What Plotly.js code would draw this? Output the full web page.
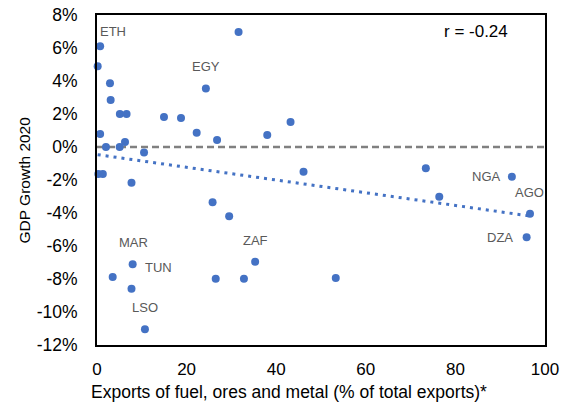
<!DOCTYPE html>
<html>
<head>
<meta charset="utf-8">
<script src="https://cdn.plot.ly/plotly-3.0.1.min.js"></script>
<style>
  html, body { margin: 0; padding: 0; background: #fff; }
  #chart { width: 567px; height: 409px; }
</style>
</head>
<body>
<div id="chart"></div>
<script>
// Exports of fuel, ores and metal (% of total exports)
const exportsShare = [
  0.7, 0.15, 2.9, 3.05, 5.1, 6.6, 14.95, 0.7, 2.0, 5.06, 6.25, 10.5, 0.3, 1.3, 7.7,
  31.6, 24.3, 18.75, 22.25, 26.8, 38.0, 43.2, 46.1, 73.4, 92.6, 76.4, 96.65, 95.9,
  35.3, 53.3, 25.8, 29.5, 7.96, 7.7, 10.7, 3.5, 26.5, 32.8
];
// GDP growth 2020 (%)
const gdpGrowth = [
  6.1, 4.9, 3.86, 2.85, 2.0, 2.0, 1.82, 0.79, 0.0, 0.0, 0.3, -0.33, -1.64, -1.64, -2.16,
  6.97, 3.55, 1.76, 0.87, 0.42, 0.73, 1.52, -1.5, -1.29, -1.8, -3.01, -4.04, -5.47,
  -6.95, -7.94, -3.35, -4.2, -7.11, -8.59, -11.05, -7.88, -7.98, -7.98
];

// Country labels and where their text sits
const labelText = ["ETH", "EGY", "MAR", "TUN", "LSO", "ZAF", "NGA", "AGO", "DZA"];
const labelX = [3.57, 24.3, 8.04, 13.77, 10.78, 35.3, 86.95, 96.65, 89.9];
const labelY = [6.99, 4.87, -5.78, -7.29, -9.72, -5.64, -1.76, -2.77, -5.5];

const corrText = "r = -0.24";

const yTickVals = [-12, -10, -8, -6, -4, -2, 0, 2, 4, 6, 8];
const yTickText = ["-12%", "-10%", "-8%", "-6%", "-4%", "-2%", "0%", "2%", "4%", "6%", "8%"];
const xTickVals = [0, 20, 40, 60, 80, 100];

// Least-squares linear trend through the points
function linearFit(xs, ys) {
  const n = xs.length;
  const mx = xs.reduce((a, b) => a + b, 0) / n;
  const my = ys.reduce((a, b) => a + b, 0) / n;
  let sxy = 0, sxx = 0;
  for (let i = 0; i < n; i++) {
    sxy += (xs[i] - mx) * (ys[i] - my);
    sxx += (xs[i] - mx) * (xs[i] - mx);
  }
  const slope = sxy / sxx;
  return { slope, intercept: my - slope * mx };
}
const fit = linearFit(exportsShare, gdpGrowth);
const xMin = Math.min(...exportsShare), xMax = Math.max(...exportsShare);
const trendX = [xMin, xMax];
const trendY = trendX.map(x => fit.intercept + fit.slope * x);

const FONT = "Liberation Sans, Arial, sans-serif";
const BLUE = "#4472C4";

const traces = [
  {
    type: "scatter", mode: "lines", x: trendX, y: trendY,
    line: { color: BLUE, width: 3, dash: "3px,5px" },
    hoverinfo: "skip", showlegend: false
  },
  {
    type: "scatter", mode: "markers", x: exportsShare, y: gdpGrowth,
    marker: { color: BLUE, size: 8 },
    showlegend: false, cliponaxis: false
  }
];

const annotations = labelText.map((t, i) => ({
  x: labelX[i], y: labelY[i], xref: "x", yref: "y", text: t,
  showarrow: false, font: { family: FONT, size: 13, color: "#595959" },
  xanchor: "center", yanchor: "middle"
}));
annotations.push({
  x: 84.5, y: 7.03, xref: "x", yref: "y", text: corrText, showarrow: false,
  font: { family: FONT, size: 17, color: "#000" }, xanchor: "center", yanchor: "middle"
});

// Axis titles, placed in pixels and converted to paper units below
const W = 567, H = 409, M = { l: 97, r: 22, t: 15, b: 64 };
const pw = W - M.l - M.r, ph = H - M.t - M.b;
const px = (x) => (x - M.l) / pw;
const py = (y) => 1 - (y - M.t) / ph;

annotations.push({
  x: px(23.5), y: py(180), xref: "paper", yref: "paper", text: "GDP Growth 2020",
  showarrow: false, textangle: -90, font: { family: FONT, size: 15.5, color: "#000" },
  xanchor: "center", yanchor: "middle"
});
annotations.push({
  x: px(289), y: py(392), xref: "paper", yref: "paper",
  text: "Exports of fuel, ores and metal (% of total exports)*",
  showarrow: false, font: { family: FONT, size: 17.5, color: "#000" },
  xanchor: "center", yanchor: "middle"
});

const layout = {
  width: W, height: H,
  margin: M,
  paper_bgcolor: "#fff", plot_bgcolor: "#fff",
  font: { family: FONT, size: 15, color: "#000" },
  xaxis: {
    range: [0, 100], tickvals: xTickVals,
    showgrid: false, zeroline: false,
    showline: true, mirror: true, linecolor: "#000", linewidth: 2,
    ticks: "", ticklabelstandoff: 8,
    tickfont: { family: FONT, size: 17, color: "#000" }
  },
  yaxis: {
    range: [-12, 8], tickvals: yTickVals, ticktext: yTickText,
    showgrid: false, zeroline: false,
    showline: true, mirror: true, linecolor: "#000", linewidth: 2,
    ticks: "", ticklabelstandoff: 14,
    tickfont: { family: FONT, size: 17.5, color: "#000" }
  },
  shapes: [{
    type: "line", xref: "x", yref: "y", x0: 0, x1: 100, y0: 0, y1: 0,
    line: { color: "#808080", width: 2.5, dash: "7px,4px" }, layer: "below"
  }],
  annotations: annotations,
  showlegend: false
};

Plotly.newPlot("chart", traces, layout, { displayModeBar: false, staticPlot: true });
</script>
</body>
</html>
